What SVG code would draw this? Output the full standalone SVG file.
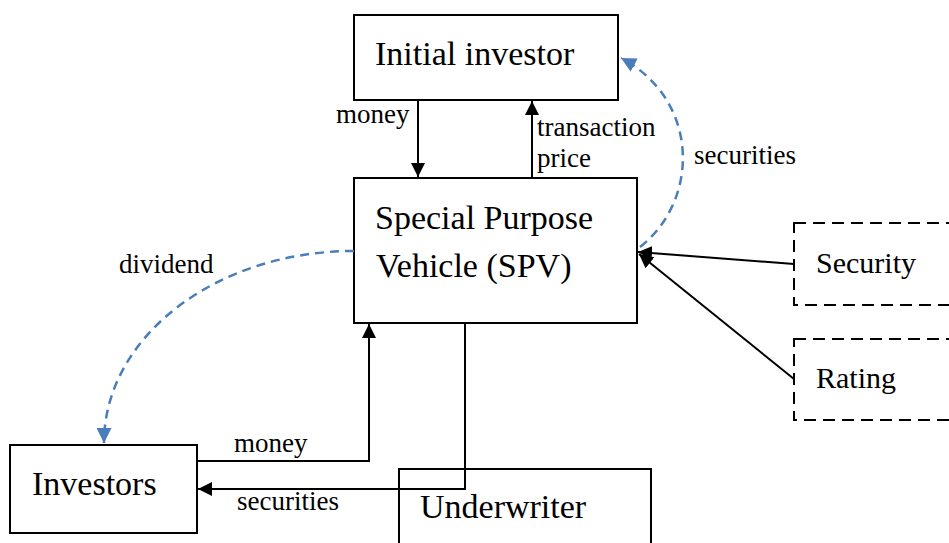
<svg xmlns="http://www.w3.org/2000/svg" width="949" height="543" viewBox="0 0 949 543">
<style>
.box{fill:#fff;stroke:#000;stroke-width:2}
.dbox{fill:#fff;stroke:#000;stroke-width:2;stroke-dasharray:12,7}
.t{font-family:"Liberation Serif","Times New Roman",serif;font-size:34px;fill:#000}
.s{font-family:"Liberation Serif","Times New Roman",serif;font-size:30px;fill:#000}
.l{font-family:"Liberation Serif","Times New Roman",serif;font-size:27px;fill:#000}
.c{fill:none;stroke:#000;stroke-width:2}
.b{fill:none;stroke:#4a7ebb;stroke-width:2.5;stroke-dasharray:9,6}
</style>
<defs>
<marker id="ak" viewBox="0 0 10 10" refX="10" refY="5" markerUnits="userSpaceOnUse" markerWidth="14" markerHeight="14" orient="auto"><path d="M0,0 L10,5 L0,10 Z" fill="#000"/></marker>
<marker id="ab" viewBox="0 0 10 10" refX="10" refY="5" markerUnits="userSpaceOnUse" markerWidth="15" markerHeight="15" orient="auto"><path d="M0,0 L10,5 L0,10 Z" fill="#4a7ebb"/></marker>
</defs>
<g id="underwriter"><rect class="box" x="399" y="469" width="252" height="90" stroke-width="1.5"/><text class="t" x="420" y="518">Underwriter</text></g>
<g id="initial-investor"><rect class="box" x="354" y="15" width="264" height="85"/><text class="t" x="375" y="65">Initial investor</text></g>
<g id="spv"><rect class="box" x="354" y="178" width="283" height="145"/><text class="t" x="375" y="229">Special Purpose</text><text class="t" x="376" y="277">Vehicle (SPV)</text></g>
<g id="security"><rect class="dbox" x="794" y="223" width="170" height="82"/><text class="s" x="816" y="273">Security</text></g>
<g id="rating"><rect class="dbox" x="794" y="339" width="170" height="81"/><text class="s" x="816" y="388">Rating</text></g>
<g id="investors"><rect class="box" x="10" y="445" width="187" height="88"/><text class="t" x="32" y="495">Investors</text></g>
<g id="connectors">
<path class="c" d="M418,100 V177" marker-end="url(#ak)"/>
<path class="c" d="M532,178 V101" marker-end="url(#ak)"/>
<path class="c" d="M794,264 L638,252" marker-end="url(#ak)"/>
<path class="c" d="M794,379 L639,254" marker-end="url(#ak)"/>
<path class="c" d="M197,461 H369 V324" marker-end="url(#ak)"/>
<path class="c" d="M465,323 V489 H198" marker-end="url(#ak)"/>
<path class="b" d="M640,247 C700,200 700,100 621,58" marker-end="url(#ab)"/>
<path class="b" d="M354,251 C216,251 104,337 104,443" marker-end="url(#ab)"/>
<text class="l" x="336" y="123">money</text>
<text class="l" x="537" y="136">transaction</text>
<text class="l" x="537" y="167">price</text>
<text class="l" x="694" y="164">securities</text>
<text class="l" x="119" y="273">dividend</text>
<text class="l" x="234" y="452">money</text>
<text class="l" x="237" y="510">securities</text>
</g>
</svg>
